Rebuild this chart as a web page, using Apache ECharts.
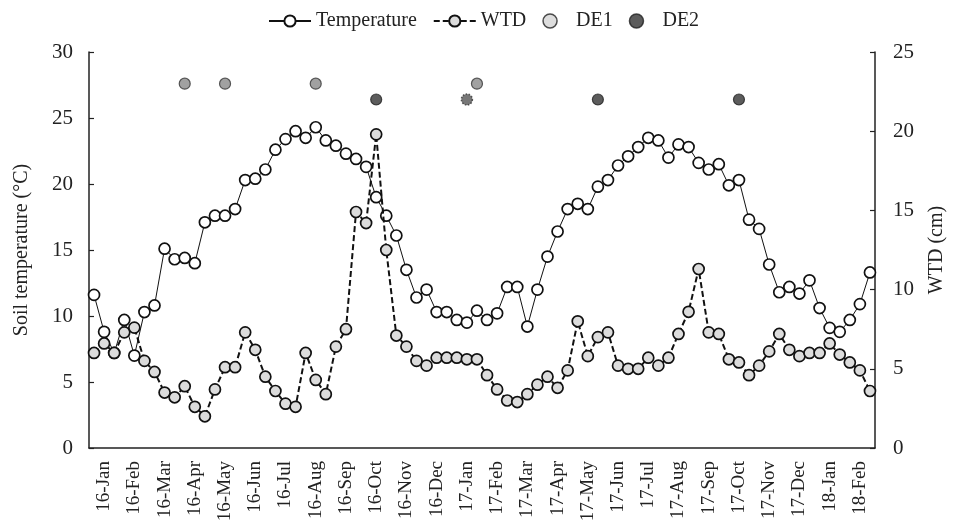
<!DOCTYPE html>
<html>
<head>
<meta charset="utf-8">
<script src="https://cdn.jsdelivr.net/npm/echarts@6/dist/echarts.min.js"></script>
<style>html,body{margin:0;padding:0;background:#fff}#c{width:955px;height:527px}</style>
</head>
<body>
<div id="c"></div>
<script>
const months = ['16-Jan','16-Feb','16-Mar','16-Apr','16-May','16-Jun','16-Jul','16-Aug','16-Sep','16-Oct','16-Nov','16-Dec',
  '17-Jan','17-Feb','17-Mar','17-Apr','17-May','17-Jun','17-Jul','17-Aug','17-Sep','17-Oct','17-Nov','17-Dec','18-Jan','18-Feb'];
const temperature = [11.6,8.8,7.2,9.7,7.0,10.3,10.8,15.1,14.3,14.4,14.0,17.1,17.6,17.6,18.1,20.3,20.4,21.1,22.6,23.4,
  24.0,23.5,24.3,23.3,22.9,22.3,21.9,21.3,19.0,17.6,16.1,13.5,11.4,12.0,10.3,10.3,9.7,9.5,10.4,9.7,
  10.2,12.2,12.2,9.2,12.0,14.5,16.4,18.1,18.5,18.1,19.8,20.3,21.4,22.1,22.8,23.5,23.3,22.0,23.0,22.8,
  21.6,21.1,21.5,19.9,20.3,17.3,16.6,13.9,11.8,12.2,11.7,12.7,10.6,9.1,8.8,9.7,10.9,13.3];
const wtd = [6.0,6.6,6.0,7.3,7.6,5.5,4.8,3.5,3.2,3.9,2.6,2.0,3.7,5.1,5.1,7.3,6.2,4.5,3.6,2.8,
  2.6,6.0,4.3,3.4,6.4,7.5,14.9,14.2,19.8,12.5,7.1,6.4,5.5,5.2,5.7,5.7,5.7,5.6,5.6,4.6,
  3.7,3.0,2.9,3.4,4.0,4.5,3.8,4.9,8.0,5.8,7.0,7.3,5.2,5.0,5.0,5.7,5.2,5.7,7.2,8.6,
  11.3,7.3,7.2,5.6,5.4,4.6,5.2,6.1,7.2,6.2,5.8,6.0,6.0,6.6,5.9,5.4,4.9,3.6];
const de1Dekads = [9,13,22,38];
const de1Level = 23;
const de2Dekads = [28,37,50,64];
const de2Level = 22;
const leftTicks = [0,5,10,15,20,25,30];
const rightTicks = [0,5,10,15,20,25];

const dekads = [];
months.forEach(m => { for (let k = 1; k <= 3; k++) dekads.push(m + '-' + k); });

const FONT = 'Liberation Serif';
const AX = '#222';

const chart = echarts.init(document.getElementById('c'));
chart.setOption({
  animation: false,
  backgroundColor: '#fff',
  textStyle: { fontFamily: FONT, color: '#222' },
  legend: {
    top: 6, left: 263,
    itemWidth: 42, itemHeight: 14, itemGap: 16,
    textStyle: { fontFamily: FONT, fontSize: 20, color: '#222' },
    data: [
      { name: 'Temperature' },
      { name: 'WTD' },
      { name: 'DE1', icon: 'circle', itemStyle: { color: '#d4d4d4', borderColor: '#222', borderWidth: 1.5 } },
      { name: 'DE2', icon: 'circle', itemStyle: { color: '#333', borderColor: '#222', borderWidth: 1.5 } }
    ]
  },
  grid: { left: 89, right: 79, top: 52, bottom: 79 },
  xAxis: [
    {
      type: 'category', data: months, boundaryGap: true, position: 'bottom',
      axisLine: { lineStyle: { color: AX, width: 1.5 } },
      axisTick: { inside: true, length: 5, interval: 0, lineStyle: { color: AX, width: 1.2 } },
      axisLabel: { rotate: 90, interval: 0, margin: 13, fontFamily: FONT, fontSize: 19, color: '#222' },
      splitLine: { show: false }
    },
    {
      type: 'category', data: dekads, boundaryGap: true, show: false, position: 'bottom'
    }
  ],
  yAxis: [
    {
      type: 'value', min: 0, max: 30, interval: 5,
      name: 'Soil temperature (°C)', nameLocation: 'middle', nameRotate: 90, nameGap: 57,
      nameTextStyle: { fontFamily: FONT, fontSize: 20, color: '#222' },
      axisLine: { show: true, lineStyle: { color: AX, width: 1.5 } },
      axisTick: { show: true, inside: true, length: 5, lineStyle: { color: AX, width: 1.2 } },
      axisLabel: { margin: 16, fontFamily: FONT, fontSize: 21, color: '#222',
        formatter: v => leftTicks.includes(v) ? String(v) : '' },
      splitLine: { show: false }
    },
    {
      type: 'value', min: 0, max: 25, interval: 5, position: 'right',
      name: 'WTD (cm)', nameLocation: 'middle', nameRotate: 90, nameGap: 52,
      nameTextStyle: { fontFamily: FONT, fontSize: 20, color: '#222' },
      axisLine: { show: true, lineStyle: { color: AX, width: 1.5 } },
      axisTick: { show: true, inside: true, length: 5, lineStyle: { color: AX, width: 1.2 } },
      axisLabel: { margin: 18, fontFamily: FONT, fontSize: 21, color: '#222',
        formatter: v => rightTicks.includes(v) ? String(v) : '' },
      splitLine: { show: false }
    }
  ],
  series: [
    {
      name: 'Temperature', type: 'line', xAxisIndex: 1, yAxisIndex: 0,
      data: temperature, symbol: 'circle', symbolSize: 11, showAllSymbol: true,
      lineStyle: { color: '#111', width: 1, type: 'solid' },
      itemStyle: { color: '#fff', borderColor: '#111', borderWidth: 1.7 },
      z: 2
    },
    {
      name: 'WTD', type: 'line', xAxisIndex: 1, yAxisIndex: 1,
      data: wtd, symbol: 'circle', symbolSize: 11, showAllSymbol: true,
      lineStyle: { color: '#111', width: 2, type: [6, 3] },
      itemStyle: { color: '#dcdcdc', borderColor: '#111', borderWidth: 1.7 },
      z: 3
    },
    {
      name: 'DE1', type: 'scatter', xAxisIndex: 1, yAxisIndex: 1,
      data: de1Dekads.map(d => [d, de1Level]), symbol: 'circle', symbolSize: 11,
      itemStyle: { color: '#8a8a8a', borderColor: '#333', borderWidth: 1.2 },
      z: 4
    },
    {
      name: 'DE2', type: 'scatter', xAxisIndex: 1, yAxisIndex: 1,
      data: de2Dekads.map(d => d === 37
        ? { value: [d, de2Level], itemStyle: { color: '#555', borderColor: '#333', borderType: 'dotted', borderWidth: 1.5 } }
        : [d, de2Level]),
      symbol: 'circle', symbolSize: 11,
      itemStyle: { color: '#333', borderColor: '#222', borderWidth: 1.2 },
      z: 4
    }
  ]
});
</script>
</body>
</html>
